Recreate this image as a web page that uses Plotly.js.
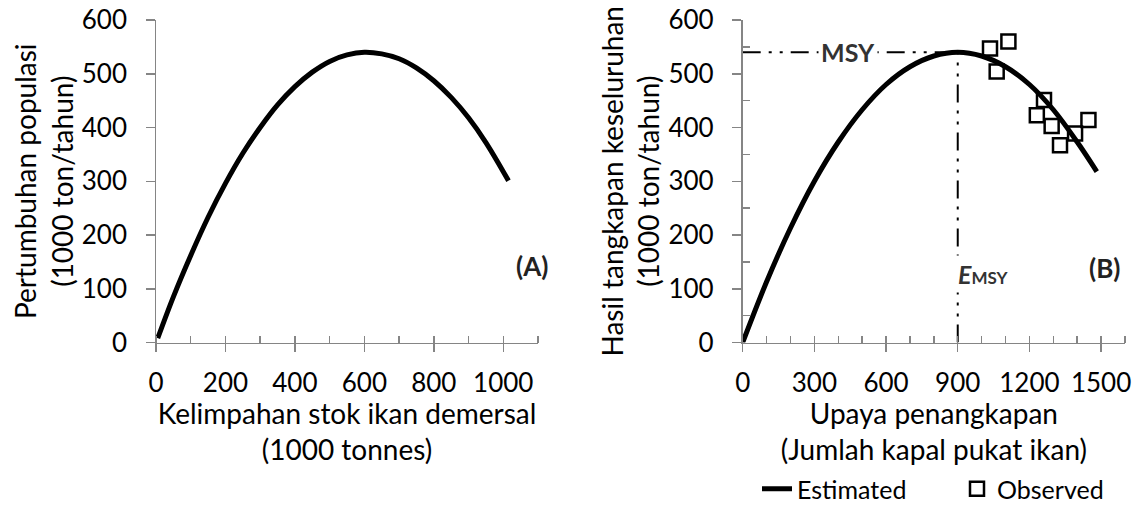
<!DOCTYPE html>
<html>
<head>
<meta charset="utf-8">
<script src="https://cdn.plot.ly/plotly-3.0.1.min.js"></script>
<style>
html,body{margin:0;padding:0;background:#fff;}
#chart{width:1146px;height:506px;}
</style>
</head>
<body>
<div id="chart"></div>
<script>
// ---- Data ----
// Panel A: population growth vs demersal stock abundance
const stockA  = [5, 50, 100, 150, 200, 250, 300, 350, 400, 450, 500, 550, 600, 650, 700, 750, 800, 850, 900, 950, 1015];
const growthA = [8, 85, 162, 233, 296, 352, 400, 442, 476, 503, 523, 535, 540, 537, 528, 511, 487, 456, 418, 372, 301];

// Panel B: total catch vs fishing effort (estimated curve)
const effortB = [0, 100, 200, 300, 400, 500, 600, 700, 800, 900, 1000, 1100, 1200, 1300, 1400, 1482];
const catchB  = [0, 113, 213, 300, 373, 433, 480, 513, 533, 540, 533, 513, 480, 433, 373, 318];

// Panel B: observed points
const obsEffort = [1035, 1112, 1063, 1261, 1231, 1293, 1328, 1391, 1447];
const obsCatch  = [547, 560, 504, 451, 423, 403, 367, 389, 414];

// Reference values
const MSY  = [540];
const EMSY = [900];

// Axis ranges and minor tick positions
const rangeXA = [0, 1100];
const rangeXB = [0, 1600];
const rangeY  = [0, 600];
const minorYB = [50, 150, 250, 350, 450, 550];

// Titles / labels
const xTitleA = 'Kelimpahan stok ikan demersal<br>(1000 tonnes)';
const yTitleA = 'Pertumbuhan populasi<br>(1000 ton/tahun)';
const xTitleB = 'Upaya penangkapan<br>(Jumlah kapal pukat ikan)';
const yTitleB = 'Hasil tangkapan keseluruhan<br>(1000 ton/tahun)';
const legendNames = ['Estimated', 'Observed'];

// ---- Styling ----
const FONT = 'Lato, "Open Sans", sans-serif';
const AX = '#858585';
const LW = 1.5;
const TICKFS = 26, TITLEFS = 28;
const W = 1146, H = 506;
const yDom = [1 - 342.5 / H, 1 - 20 / H];
const xDomA = [156 / W, 538 / W];
const xDomB = [742.7 / W, 1125 / W];
const refDash = '18px,8px,3px,8px,3px,8px';
const GAP = '\u00a0\u00a0';

const traces = [
  {x: [0, EMSY[0]], y: [MSY[0], MSY[0]], xaxis: 'x2', yaxis: 'y2', mode: 'lines',
   line: {color: '#000', width: 2, dash: refDash}, showlegend: false, hoverinfo: 'skip'},
  {x: [EMSY[0], EMSY[0]], y: [0, MSY[0]], xaxis: 'x2', yaxis: 'y2', mode: 'lines',
   line: {color: '#000', width: 2, dash: refDash}, showlegend: false, hoverinfo: 'skip'},
  {x: stockA, y: growthA, xaxis: 'x', yaxis: 'y', mode: 'lines', line: {color: '#000', width: 5, shape: 'spline'},
   showlegend: false},
  {x: effortB, y: catchB, xaxis: 'x2', yaxis: 'y2', mode: 'lines', name: legendNames[0],
   line: {color: '#000', width: 5, shape: 'spline'}},
  {x: obsEffort, y: obsCatch, xaxis: 'x2', yaxis: 'y2', mode: 'markers', name: legendNames[1],
   marker: {symbol: 'square-open', size: 14, color: '#000', line: {width: 2.5, color: '#000'}}}
];

function xAxis(domain, range, dtick, anchor, title) {
  return {
    domain: domain, range: range, anchor: anchor, automargin: false,
    showline: true, linecolor: AX, linewidth: LW, zeroline: false, showgrid: false,
    ticks: 'outside', ticklen: 8, tickwidth: LW, tickcolor: AX, dtick: dtick, tick0: 0,
    minor: {ticks: 'inside', dtick: 100, ticklen: 7, tickwidth: LW, tickcolor: AX, showgrid: false},
    tickfont: {family: FONT, size: TICKFS, color: '#000'}, ticklabelstandoff: 9,
    title: {text: title, font: {family: FONT, size: TITLEFS, color: '#000'}, standoff: 14}
  };
}
function yAxis(anchor, title, minorVals) {
  const a = {
    domain: yDom, range: rangeY, anchor: anchor, automargin: false,
    showline: true, linecolor: AX, linewidth: LW, zeroline: false, showgrid: false,
    ticks: 'outside', ticklen: 9, tickwidth: LW, tickcolor: AX, dtick: 100, tick0: 0,
    ticksuffix: GAP,
    tickfont: {family: FONT, size: TICKFS, color: '#000'},
    title: {text: title, font: {family: FONT, size: TITLEFS, color: '#000'}, standoff: 0}
  };
  if (minorVals) a.minor = {ticks: 'inside', tickmode: 'array', tickvals: minorVals, ticklen: 7, tickwidth: LW, tickcolor: AX, showgrid: false};
  return a;
}

const layout = {
  width: W, height: H, margin: {l: 0, r: 0, t: 0, b: 0, autoexpand: false},
  paper_bgcolor: '#fff', plot_bgcolor: '#fff',
  font: {family: FONT, size: TICKFS, color: '#000'},
  xaxis: xAxis(xDomA, rangeXA, 200, 'y', xTitleA),
  yaxis: yAxis('x', yTitleA, null),
  xaxis2: xAxis(xDomB, rangeXB, 300, 'y2', xTitleB),
  yaxis2: yAxis('x2', yTitleB, minorYB),
  showlegend: true,
  legend: {orientation: 'h', xref: 'container', yref: 'container', x: 757 / W, y: 1 - 489 / H,
           xanchor: 'left', yanchor: 'middle',
           font: {family: FONT, size: 25, color: '#000'}, bgcolor: 'rgba(0,0,0,0)',
           entrywidth: 155, entrywidthmode: 'pixels', tracegroupgap: 0},
  annotations: [
    {xref: 'x2', yref: 'y2', x: 440, y: MSY[0], text: '<b>MSY</b>', showarrow: false,
     font: {family: FONT, size: 25, color: '#333'}, bgcolor: '#fff', borderpad: 2},
    {xref: 'x2', yref: 'y2', x: 885, y: 128, xanchor: 'left', text: '<b><i>E</i></b><span style="font-size:17px"><b>MSY</b></span>',
     showarrow: false, font: {family: FONT, size: 25, color: '#333'}, bgcolor: '#fff', borderpad: 3},
    {xref: 'paper', yref: 'paper', x: 532 / W, y: 1 - 266 / H, text: '<b>(A)</b>', showarrow: false,
     font: {family: FONT, size: 26, color: '#222'}},
    {xref: 'paper', yref: 'paper', x: 1122 / W, y: 1 - 268 / H, text: '<b>(B)</b>', showarrow: false,
     font: {family: FONT, size: 26, color: '#222'}}
  ]
};

Plotly.newPlot('chart', traces, layout, {displayModeBar: false, staticPlot: true});
</script>
</body>
</html>
